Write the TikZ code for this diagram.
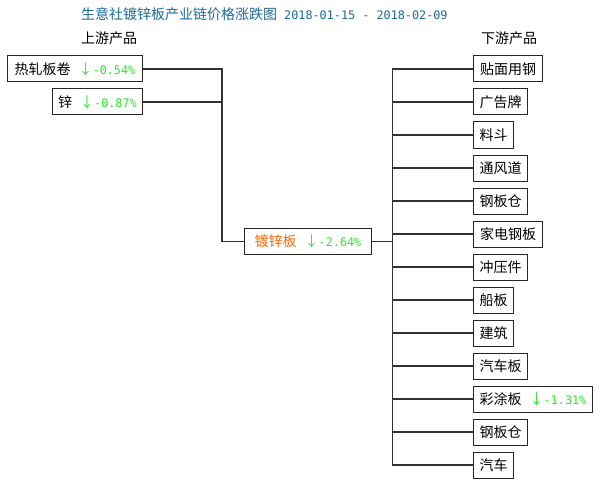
\documentclass[tikz,border=0pt]{standalone}
\usepackage{fontspec}
\newfontfamily\cjk{Noto Sans CJK SC}
\newfontfamily\mono{DejaVu Sans Mono}
\definecolor{titleblue}{RGB}{30,105,155}
\definecolor{upgreen}{RGB}{40,235,40}
\definecolor{hot}{RGB}{255,102,0}
\definecolor{linegray}{RGB}{50,50,50}
\newcommand\pctdown[1]{{\color{upgreen}\cjk ↓\mono\fontsize{11.8}{14}\selectfont #1}}
\begin{document}
\begin{tikzpicture}[x=1pt,y=-1pt,
  box/.style={draw=black!85, line width=1pt, minimum height=26pt, inner xsep=4pt, inner ysep=0pt,
    font=\cjk\fontsize{14}{16}\selectfont},
  conn/.style={draw=linegray, line width=1.2pt},
  lbl/.style={inner sep=0pt, anchor=west, font=\cjk\fontsize{14}{16}\selectfont}]
\fill[white] (0,0) rectangle (602,484);
\useasboundingbox (0,0) rectangle (602,484);

% title and headers
\node[lbl, text=titleblue] (title) at (81,14.5) {生意社镀锌板产业链价格涨跌图\hspace{7pt}{\mono\fontsize{11.8}{14}\selectfont 2018-01-15 - 2018-02-09}};
\node[lbl] (up) at (81,38.5) {上游产品};
\node[lbl] (down) at (481,38.5) {下游产品};

% upstream
\node[box, anchor=east, minimum width=135pt] (l1) at (143,69) {热轧板卷\hspace{8pt}\pctdown{-0.54\%}};
\node[box, anchor=east, minimum width=90pt] (l2) at (143,102) {锌\hspace{8pt}\pctdown{-0.87\%}};

% center
\node[box, anchor=west, minimum width=127pt] (c) at (244,241.5) {{\color{hot}镀锌板}\hspace{8pt}\pctdown{-2.64\%}};

\coordinate (lbus) at (222,241.5);
\coordinate (rbus) at (392.5,241.5);
\draw[conn] (l1.east) -| (lbus);
\draw[conn] (l2.east) -| (lbus);
\draw[conn] (lbus) -- (c.west);
\draw[conn] (c.east) -- (rbus);

% downstream
\foreach \t/\w [count=\i from 0] in {贴面用钢/69, 广告牌/54, 料斗/40, 通风道/54, 钢板仓/54, 家电钢板/69, 冲压件/54, 船板/40, 建筑/40, 汽车板/54} {
  \node[box, anchor=west, minimum width=\w pt] (r\i) at (473,69+33*\i) {\t};
  \draw[conn] (rbus) |- (r\i.west);
}
\node[box, anchor=west, minimum width=119pt] (r10) at (473,399) {彩涂板\hspace{8pt}\pctdown{-1.31\%}};
\node[box, anchor=west, minimum width=54pt] (r11) at (473,432) {钢板仓};
\node[box, anchor=west, minimum width=40pt] (r12) at (473,465) {汽车};
\draw[conn] (rbus) |- (r10.west);
\draw[conn] (rbus) |- (r11.west);
\draw[conn] (rbus) |- (r12.west);
\end{tikzpicture}
\end{document}
